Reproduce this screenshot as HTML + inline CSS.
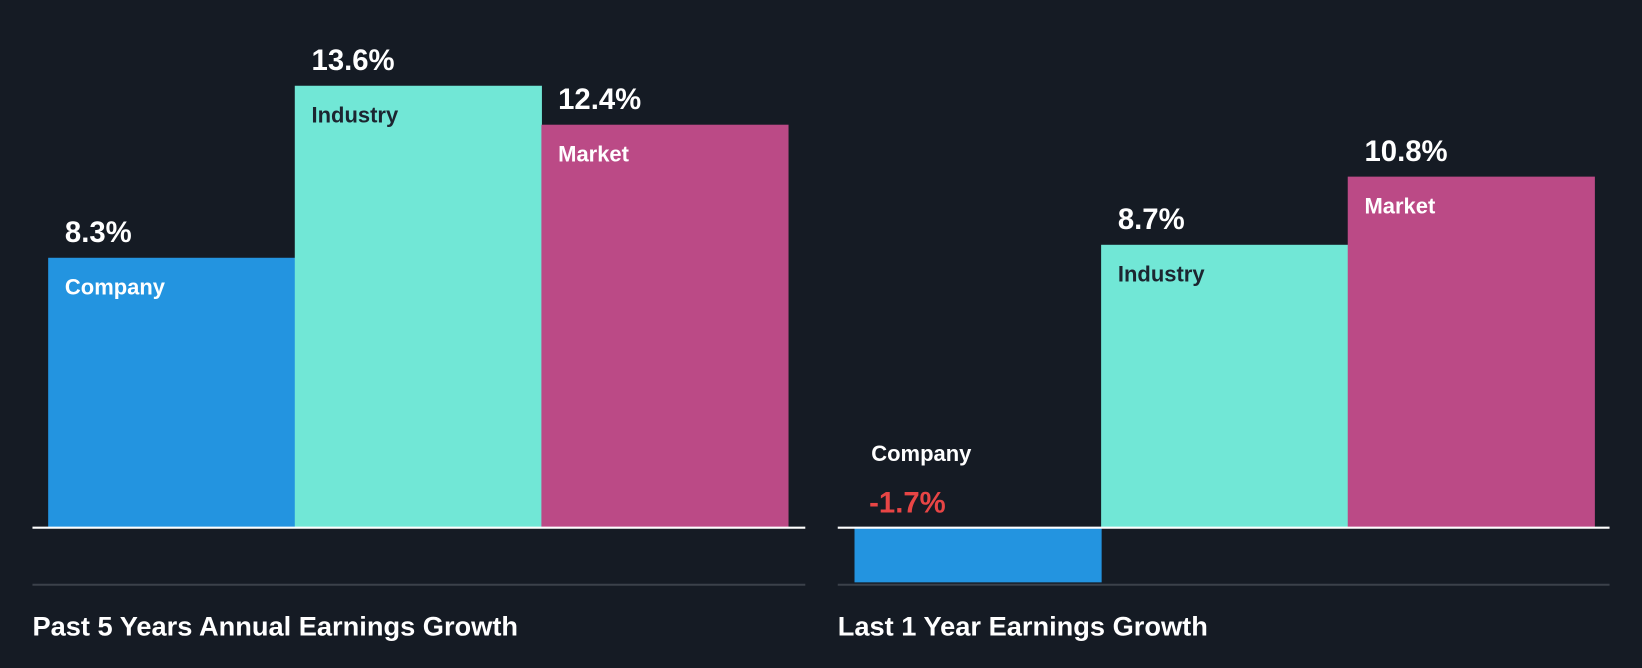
<!DOCTYPE html>
<html><head><meta charset="utf-8"><style>
html,body{margin:0;padding:0;background:#151b24;}
svg{display:block;font-family:"Liberation Sans",sans-serif;font-weight:bold;}
</style></head><body>
<svg id="chart" width="1642" height="668" viewBox="0 0 1568 638" preserveAspectRatio="none" xmlns="http://www.w3.org/2000/svg">
<rect width="1568" height="638" fill="#151b24"/>
</svg>
<script>
const categories = ["Company", "Industry", "Market"];
const past5Values = [8.3, 13.6, 12.4];
const last1Values = [-1.7, 8.7, 10.8];
const panelTitles = ["Past 5 Years Annual Earnings Growth", "Last 1 Year Earnings Growth"];
const colors = ["#2394e0", "#71e7d6", "#bb4a86"];
const labelColors = ["#ffffff", "#1c2530", "#ffffff"];
const svg = document.getElementById('chart');
const NS = "http://www.w3.org/2000/svg";
const baseY = 503.5, pxPer = 31;
function y(v){ return baseY - v*pxPer; }
function mk(tag, attrs){ const e=document.createElementNS(NS,tag); for(const k in attrs) e.setAttribute(k,attrs[k]); svg.appendChild(e); return e; }
const panels = [
  {vals: past5Values, x0: 46, lineX0: 31, lineX1: 769, titleX: 31, key: 'past-5-years'},
  {vals: last1Values, x0: 816, lineX0: 800, lineX1: 1537, titleX: 800, key: 'last-1-year'}
];
const bw = 235.5;
panels.forEach((p, pi) => {
  p.vals.forEach((v, i) => {
    const x = p.x0 + i*bw;
    const top = Math.min(y(v), baseY), h = Math.abs(y(v)-baseY);
    const r = mk('rect', {x:x, y:top, width:bw+0.5, height:h, fill:colors[i]});
    
    
    const txt = (v>0?'':'') + v.toFixed(1) + '%';
    if (v >= 0) {
      const vl = mk('text', {x:x+16, y:y(v)-15, fill:'#ffffff', 'font-size':28}); vl.textContent = txt;
      
      
      const cl = mk('text', {x:x+16, y:y(v)+35, fill:labelColors[i], 'font-size':21}); cl.textContent = categories[i];
      
      
    } else {
      const cl = mk('text', {x:x+16, y:baseY-63, fill:'#ffffff', 'font-size':21}); cl.textContent = categories[i];
      
      
      const vl = mk('text', {x:x+14, y:baseY-14, fill:'#e84545', 'font-size':28}); vl.textContent = txt;
      
      
    }
  });
  const bl = mk('line', {x1:p.lineX0, x2:p.lineX1, y1:baseY+0.5, y2:baseY+0.5, stroke:'#ffffff', 'stroke-width':2});
  
  
  const gl = mk('line', {x1:p.lineX0, x2:p.lineX1, y1:558.5, y2:558.5, stroke:'#3b414a', 'stroke-width':2});
  
  
  const t = mk('text', {x:p.titleX, y:607, fill:'#ffffff', 'font-size':26}); t.textContent = panelTitles[pi];
  
  
});
</script>
</body></html>
